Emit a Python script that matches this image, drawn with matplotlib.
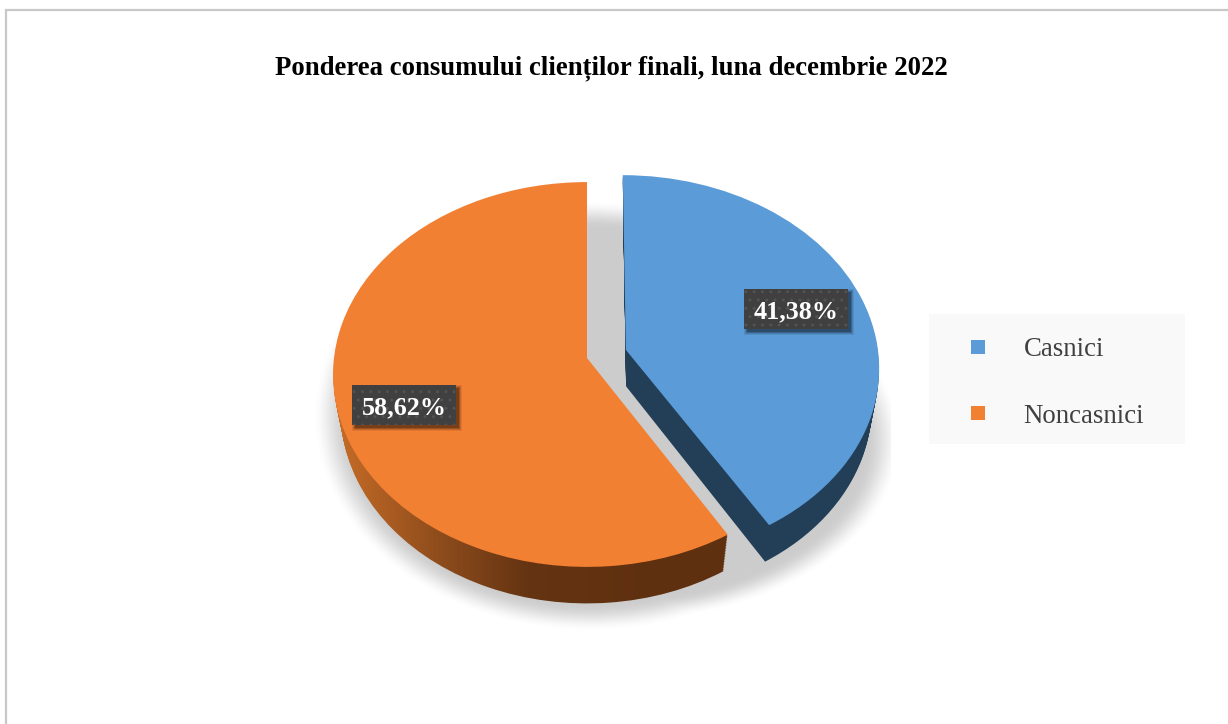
import numpy as np
import matplotlib
matplotlib.use("Agg")
import matplotlib.pyplot as plt
from matplotlib.colors import LinearSegmentedColormap
from matplotlib.lines import Line2D
from matplotlib.patches import Rectangle
from matplotlib.transforms import Transform

plt.rcParams['font.family'] = ['Liberation Serif', 'DejaVu Serif']

# data
categories = ['Casnici', 'Noncasnici']
shares = [41.38, 58.62]
title = 'Ponderea consumului clienților finali, luna decembrie 2022'
colors = ['#5b9bd7', '#f28033']
wall_blue = '#233f57'
explode = [0.16, 0]

W, H = 1228, 724


# tilts the flat unit pie into pixel space, t goes from top face (0) to bottom face (1)
class Tilt(Transform):
    input_dims = 2
    output_dims = 2

    def __init__(self, t=0.0, nudge=0.0):
        super().__init__()
        self.t = t
        self.nudge = nudge

    def transform_non_affine(self, values):
        x, y = np.asarray(values).T
        w = 1 + 0.0857 * y
        px = 587 + self.nudge * self.t + (1 - 0.03 * self.t) * 253 * x / w
        py = 358 + 36.5 * self.t - 191 * y / w
        return np.column_stack([px, py])


def draw_pie(t, zorder):
    wedges, _ = ax.pie(shares, explode=explode, colors=colors, startangle=90,
                       counterclock=False, radius=1, frame=False,
                       wedgeprops={'linewidth': 0, 'zorder': zorder})
    # only the blue wall gets the small sideways nudge, on orange it would stick out at the top
    wedges[0].set_transform(Tilt(t, 1.4) + ax.transData)
    wedges[1].set_transform(Tilt(t) + ax.transData)
    return wedges


def label_box(cx, cy, text):
    # soft shadow first, then dotted box
    for grow, alpha in [(3, 0.08), (2, 0.12), (1, 0.18), (0, 0.25)]:
        ax.add_patch(Rectangle((cx - 52 + 3 - grow, cy - 20 + 3 - grow), 104 + 2 * grow, 40 + 2 * grow,
                               fc='black', ec='none', alpha=alpha, zorder=30))
    ax.add_patch(Rectangle((cx - 52, cy - 20), 104, 40, fc='#404040', ec='#525252',
                           hatch='..', lw=0, zorder=31))
    ax.text(cx, cy, text, color='white', fontsize=18.8, fontweight='bold',
            ha='center', va='center_baseline', zorder=32)


fig = plt.figure(figsize=(W / 100, H / 100), dpi=100, facecolor='white')
ax = fig.add_axes([0, 0, 1, 1])

# wall layers, orange side has a horizontal gradient
layers = np.linspace(1, 0, 24)
wall_cmap = LinearSegmentedColormap.from_list('wall', [(0, '#c66c28'), (0.35, '#8a4a1b'),
                                                       (0.6, '#653412'), (1, '#5f3010')])
ramp = np.clip((np.arange(W) - 335) / 320, 0, 1).reshape(1, -1)
for i, t in enumerate(layers[:-1]):
    blue, orange = draw_pie(t, 5 + i * 0.01)
    blue.set_facecolor(wall_blue)
    orange.set_visible(False)
    im = ax.imshow(ramp, cmap=wall_cmap, vmin=0, vmax=1, extent=(0, W, H, 0),
                   aspect='auto', zorder=5 + i * 0.01)
    im.set_clip_path(orange)

draw_pie(0, 10)

# shadow under the pie
X, Y = np.meshgrid(np.arange(W) + 0.5, np.arange(H) + 0.5)
left = np.hypot((X - 590) / 260, (Y - 416) / 202)
right = np.hypot((X - 622) / 262, (Y - 440) / 170)
soft = np.clip((1.07 - np.minimum(left, right)) / 0.14, 0, 1)
soft = soft * soft * (3 - 2 * soft)
soft[X > 891] = 0
shadow = np.zeros((H, W, 4))
shadow[..., 3] = 0.2 * soft
ax.imshow(shadow, extent=(0, W, H, 0), aspect='auto', zorder=1)

ax.set_aspect('auto')
ax.set_xlim(0, W)
ax.set_ylim(H, 0)
ax.axis('off')

# frame of the screenshot
ax.plot([6.2, 6.2, W], [H, 10, 10], color='#c8c8c8', lw=1.6, zorder=2, solid_joinstyle='miter')

ax.text(611.5, 64.5, title, fontsize=19.24, fontweight='bold', color='black', ha='center', va='center_baseline')

label_box(796, 309, f'{shares[0]:.2f}%'.replace('.', ','))
label_box(404, 405, f'{shares[1]:.2f}%'.replace('.', ','))

# legend
ax.add_patch(Rectangle((929, 314), 256, 130, fc='#f9f9f9', ec='none', zorder=2))
handles = [Line2D([], [], ls='none', marker='s', ms=10.1, mew=0, color=c) for c in colors]
ax.legend(handles, categories, loc='upper left', bbox_to_anchor=(971, 337),
          bbox_transform=ax.transData, frameon=False, fontsize=19.3, labelcolor='#404040',
          borderpad=0, borderaxespad=0, handlelength=0.53, handletextpad=1.43, labelspacing=1.56)

fig.savefig('out.png', dpi=100)
